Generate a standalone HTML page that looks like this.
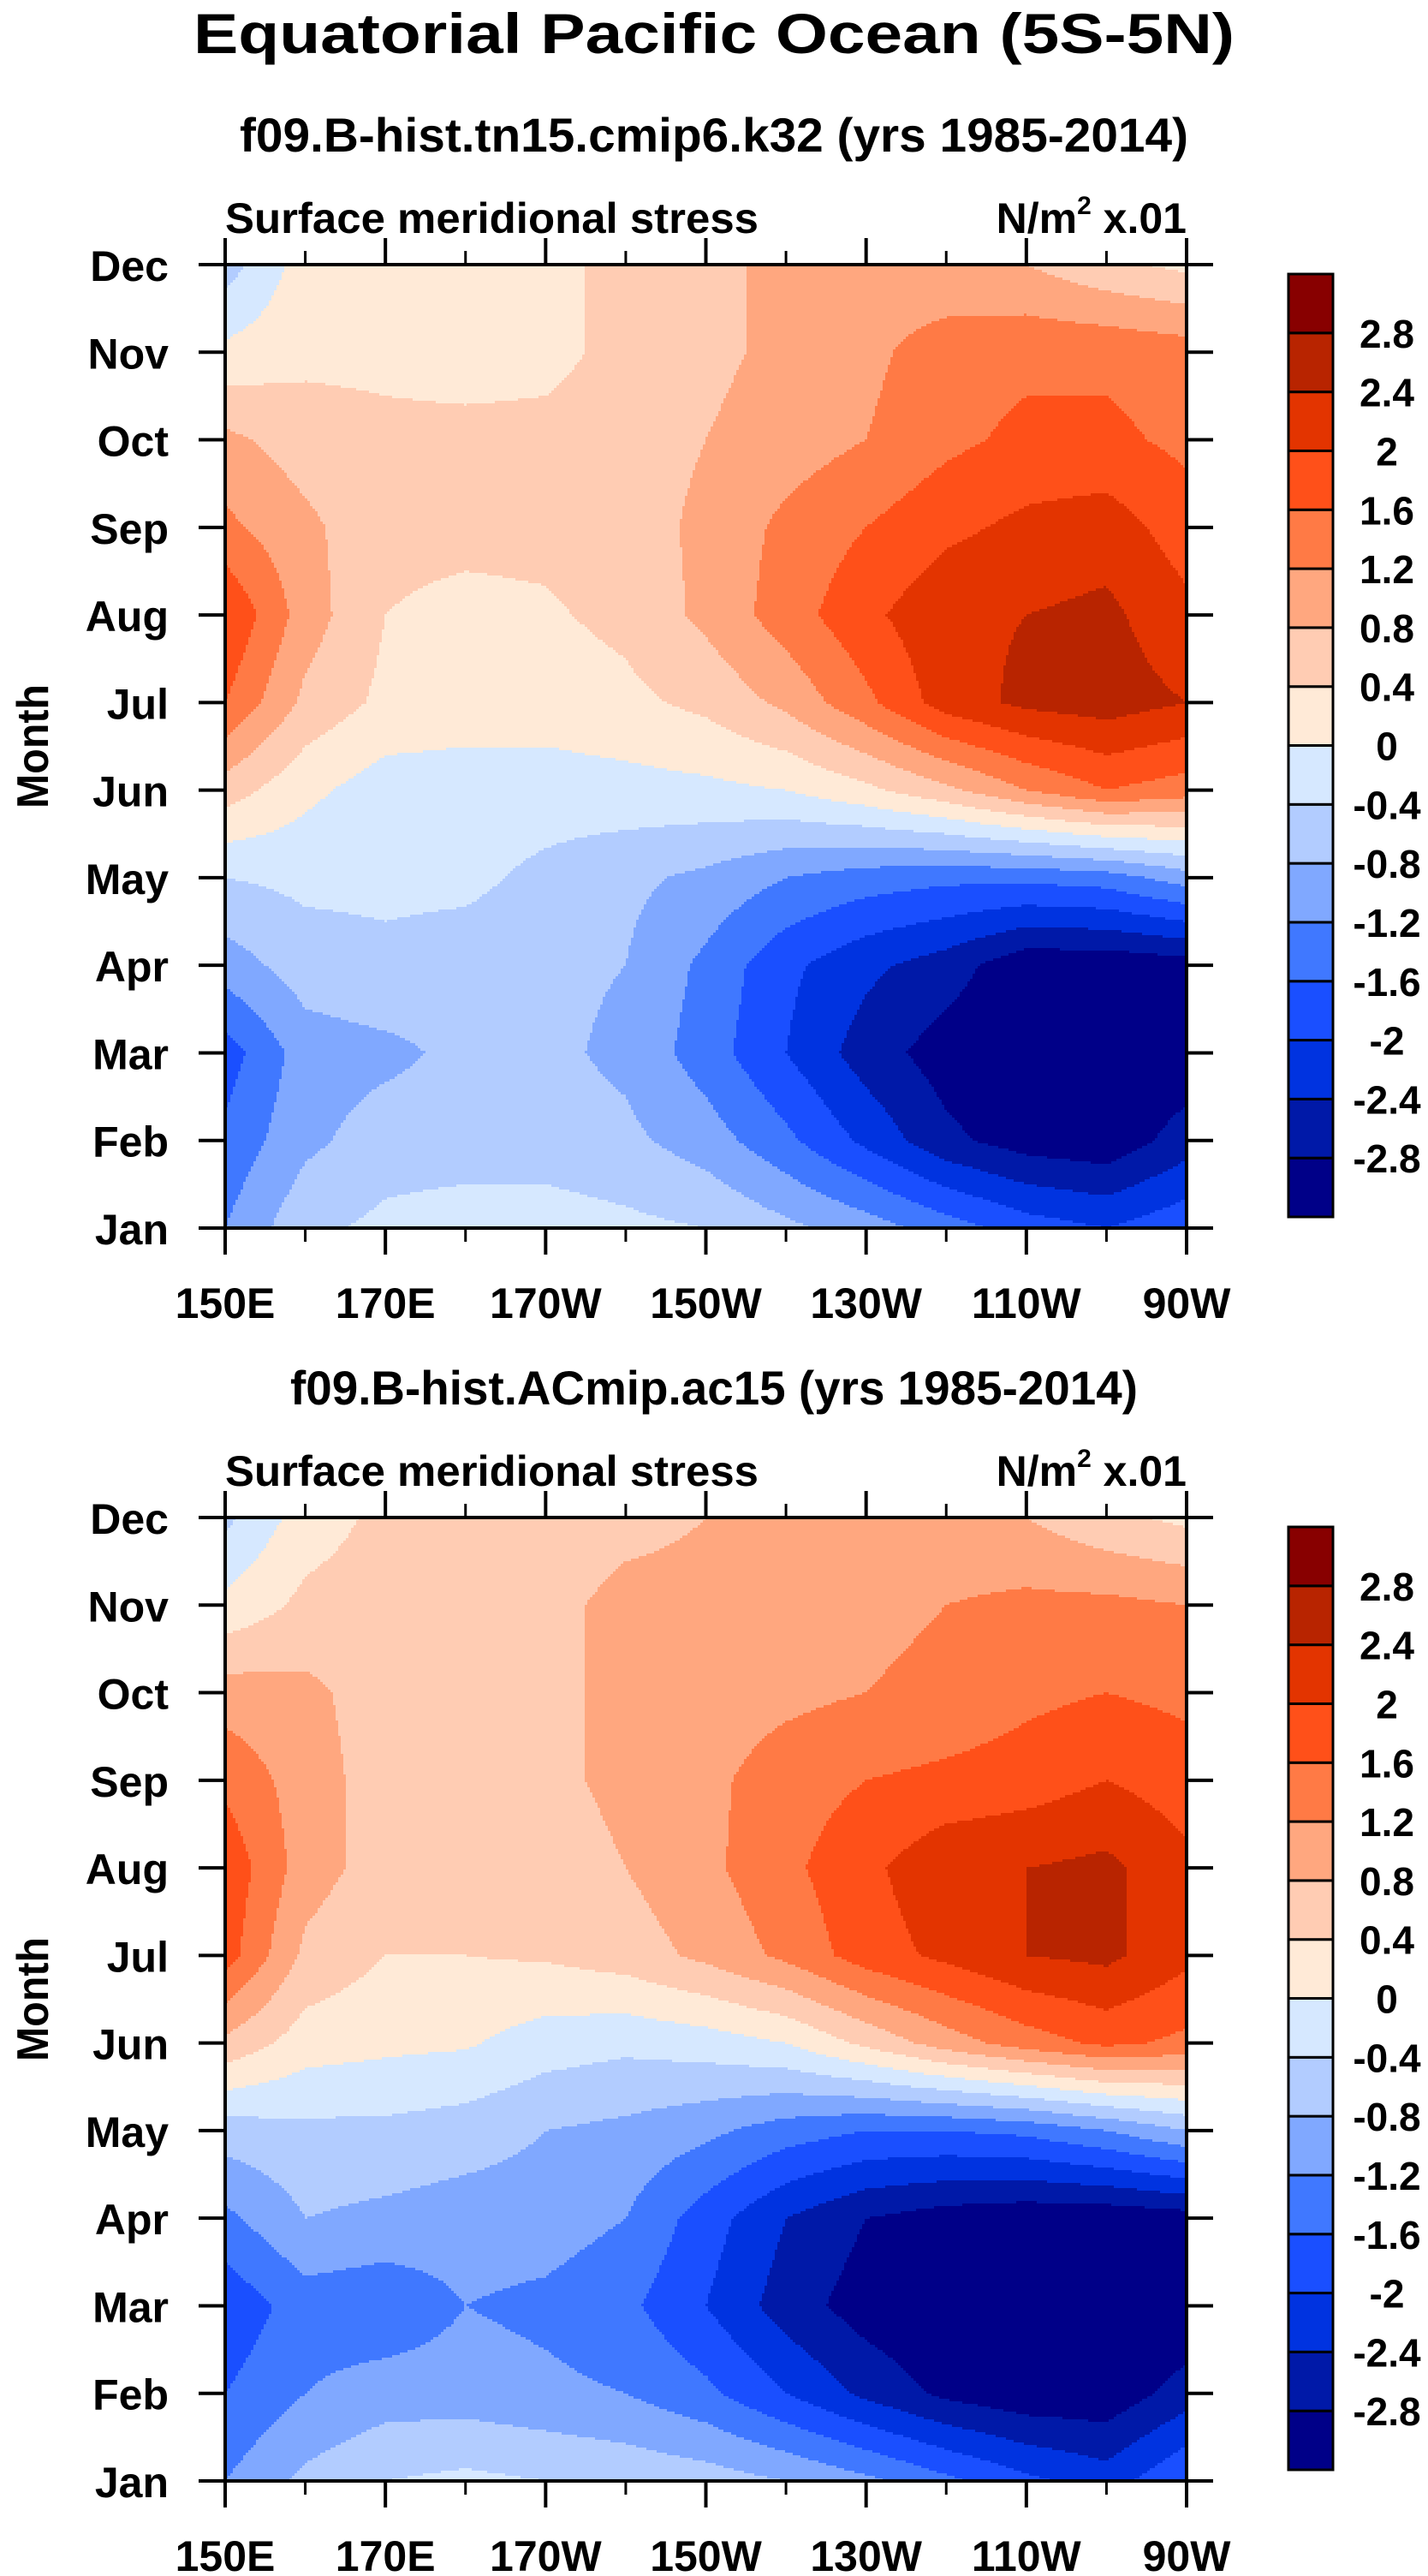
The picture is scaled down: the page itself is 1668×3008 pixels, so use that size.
<!DOCTYPE html>
<html><head><meta charset="utf-8"><style>
html,body{margin:0;padding:0;background:#fff}
svg{display:block}
text{font-family:"Liberation Sans",sans-serif;font-weight:bold;fill:#000}
</style></head><body>
<svg id="root" width="1668" height="3008" viewBox="0 0 1668 3008" xmlns="http://www.w3.org/2000/svg">
<text x="834" y="62" font-size="66" text-anchor="middle" textLength="1216" lengthAdjust="spacingAndGlyphs">Equatorial Pacific Ocean (5S-5N)</text>
<g id="panels"></g>
</svg>
<script>
// ---- data ----
const lons = [150,160,170,180,190,200,210,220,230,240,250,260,270];
const months = ["Jan","Feb","Mar","Apr","May","Jun","Jul","Aug","Sep","Oct","Nov","Dec"];
const xTickLons = [150,170,190,210,230,250,270];
const xTickLabels = ["150E","170E","170W","150W","130W","110W","90W"];
const levels = [-2.8,-2.4,-2,-1.6,-1.2,-0.8,-0.4,0,0.4,0.8,1.2,1.6,2,2.4,2.8];
const levelLabels = ["-2.8","-2.4","-2","-1.6","-1.2","-0.8","-0.4","0","0.4","0.8","1.2","1.6","2","2.4","2.8"];
const colors = ["#000088","#0019A8","#0033E0","#1A4FFF","#4078FF","#80A8FF","#B2CCFF","#D6E8FF","#FFEAD7","#FFCCB3","#FFA77F","#FF7A45","#FF5019","#E33400","#B82400","#880000"];
const titles = ["f09.B-hist.tn15.cmip6.k32 (yrs 1985-2014)","f09.B-hist.ACmip.ac15 (yrs 1985-2014)"];
// rows: Jan..Dec, columns: lons
const values1 = [
[-1.2,-0.5,-0.3,-0.2,-0.2,-0.3,-0.4,-0.7,-1.0,-1.4,-1.8,-2.0,-1.7],
[-1.5,-0.9,-0.6,-0.6,-0.6,-0.7,-1.0,-1.5,-2.1,-2.7,-3.0,-3.1,-2.6],
[-1.8,-1.0,-0.9,-0.7,-0.7,-0.9,-1.4,-2.0,-2.6,-3.0,-3.2,-3.2,-3.1],
[-1.0,-0.6,-0.5,-0.6,-0.7,-0.8,-1.3,-1.9,-2.3,-2.6,-3.1,-3.1,-3.0],
[-0.4,-0.3,-0.3,-0.3,-0.5,-0.7,-0.9,-1.2,-1.4,-1.5,-1.5,-1.4,-1.0],
[0.6,0.1,-0.2,-0.2,-0.2,-0.15,-0.1,0.0,0.3,0.7,1.2,1.6,1.4],
[1.6,0.7,0.3,0.2,0.2,0.3,0.5,0.9,1.5,2.2,2.5,2.6,2.4],
[2.0,1.0,0.4,0.3,0.35,0.5,0.9,1.4,1.9,2.3,2.4,2.5,2.1],
[1.3,0.9,0.5,0.5,0.5,0.6,0.9,1.3,1.6,1.9,2.1,2.2,1.8],
[0.9,0.6,0.5,0.5,0.5,0.6,0.8,1.0,1.2,1.5,1.7,1.7,1.5],
[0.1,0.3,0.3,0.25,0.3,0.5,0.7,0.9,1.1,1.4,1.5,1.5,1.4],
[-0.6,0.2,0.2,0.2,0.3,0.5,0.7,0.9,1.0,0.9,0.8,0.5,0.3]
];
const values2 = [
[-1.2,-0.7,-0.4,-0.3,-0.4,-0.5,-0.6,-0.8,-1.1,-1.5,-1.9,-2.2,-1.6],
[-1.6,-1.2,-1.0,-1.0,-1.1,-1.2,-1.5,-2.0,-2.5,-2.9,-3.1,-3.1,-2.6],
[-1.9,-1.4,-1.5,-1.2,-1.3,-1.5,-2.0,-2.6,-3.0,-3.2,-3.3,-3.3,-3.2],
[-1.3,-0.8,-0.9,-1.0,-1.0,-1.2,-1.8,-2.4,-2.8,-3.0,-3.1,-3.1,-3.0],
[-0.6,-0.5,-0.5,-0.6,-0.8,-0.9,-1.1,-1.4,-1.6,-1.6,-1.5,-1.2,-0.8],
[0.7,0.2,0.1,0.05,-0.2,-0.3,-0.2,0.0,0.5,1.0,1.4,1.7,1.5],
[1.8,0.7,0.4,0.4,0.45,0.6,0.9,1.3,1.8,2.1,2.4,2.5,2.1],
[1.9,1.0,0.6,0.6,0.6,0.8,1.1,1.5,1.9,2.3,2.4,2.5,2.1],
[1.5,1.0,0.6,0.6,0.7,0.9,1.1,1.4,1.6,1.7,1.8,2.0,1.8],
[1.0,0.9,0.6,0.6,0.7,0.9,1.0,1.1,1.2,1.3,1.5,1.6,1.5],
[0.1,0.5,0.6,0.6,0.7,0.9,0.9,1.0,1.1,1.2,1.3,1.3,1.2],
[-0.5,0.2,0.5,0.6,0.6,0.7,0.8,0.9,1.0,0.9,0.8,0.5,0.3]
];
const datasets = [values1, values2];

const NS = "http://www.w3.org/2000/svg";
const L = 263, R = 1386, W = R - L;
const panelTops = [309, 1772];
const H = 1125;
function mk(tag, attrs, parent){const e=document.createElementNS(NS,tag);for(const k in attrs)e.setAttribute(k,attrs[k]);parent.appendChild(e);return e;}
function colorIndex(v){let i=0;while(i<levels.length&&v>=levels[i])i++;return i;}

const panels = document.getElementById('panels');
datasets.forEach((vals, p) => {
  const top = panelTops[p], bot = top + H;
  const xs = lon => L + (lon - lons[0]) / (lons[lons.length-1] - lons[0]) * W;
  const ys = m => bot - m / (months.length - 1) * H;
  const g = mk('g', {}, panels);
  
  
  const t = mk('text', {x:834, y:top-132, 'font-size':56, 'text-anchor':'middle', textLength: p===0?1108:990, lengthAdjust:'spacingAndGlyphs'}, g);
  t.textContent = titles[p];
  
  
  const s1 = mk('text', {x:L, y:top-37, 'font-size':50, textLength:623, lengthAdjust:'spacingAndGlyphs'}, g);
  s1.textContent = 'Surface meridional stress';
  
  
  const s2 = mk('text', {x:R, y:top-37, 'font-size':50, 'text-anchor':'end'}, g);
  s2.innerHTML = 'N/m<tspan font-size="30" dy="-22">2</tspan><tspan dy="22"> x.01</tspan>';
  
  
  // contour field
  const field = mk('g', {'shape-rendering':'crispEdges'}, g);
  
  
  const step = 3, xstep = 3;
  const nLon = lons.length, nM = months.length;
  for (let py = top; py < bot; py += step) {
    const yc = py + step/2;
    let mf = (bot - yc) / H * (nM - 1);
    mf = Math.max(0, Math.min(nM - 1 - 1e-9, mf));
    const m0 = Math.floor(mf), fm = mf - m0;
    let runStart = L, runCi = -1;
    let px = L;
    while (true) {
      const done = px >= R;
      let ci = -1;
      if (!done) {
        let lf = (px + xstep/2 - L) / W * (nLon - 1);
        lf = Math.max(0, Math.min(nLon - 1 - 1e-9, lf));
        const l0 = Math.floor(lf), fl = lf - l0;
        const v = (vals[m0][l0]*(1-fl) + vals[m0][l0+1]*fl)*(1-fm) + (vals[m0+1][l0]*(1-fl) + vals[m0+1][l0+1]*fl)*fm;
        ci = colorIndex(v);
      }
      if (ci !== runCi || done) {
        if (runCi >= 0) {
          const r = mk('rect', {x:runStart, y:py, width:Math.min(px,R)-runStart, height:Math.min(step, bot-py), fill:colors[runCi]}, field);
          
          
        }
        runStart = px; runCi = ci;
      }
      if (done) break;
      px += xstep;
    }
  }
  // frame
  const fr = mk('rect', {x:L, y:top, width:W, height:H, fill:'none', stroke:'#000', 'stroke-width':4}, g);
  
  
  // y ticks & labels
  months.forEach((mn, i) => {
    const y = ys(i);
    mk('line', {x1:L-31, x2:L, y1:y, y2:y, stroke:'#000', 'stroke-width':4}, g);
    mk('line', {x1:R, x2:R+31, y1:y, y2:y, stroke:'#000', 'stroke-width':4}, g);
    const tl = mk('text', {x:197, y:y+19, 'font-size':50, 'text-anchor':'end'}, g);
    tl.textContent = mn;
    
    
  });
  // x ticks
  lons.forEach((ln) => {
    const x = xs(ln);
    const major = xTickLons.indexOf(ln) >= 0;
    const len = major ? 31 : 16;
    mk('line', {x1:x, x2:x, y1:top-len, y2:top, stroke:'#000', 'stroke-width':major?4:3}, g);
    mk('line', {x1:x, x2:x, y1:bot, y2:bot+len, stroke:'#000', 'stroke-width':major?4:3}, g);
  });
  xTickLons.forEach((ln, i) => {
    const tl = mk('text', {x:xs(ln), y:bot+105, 'font-size':50, 'text-anchor':'middle'}, g);
    tl.textContent = xTickLabels[i];
    
    
  });
  const yt = mk('text', {x:0, y:0, 'font-size':52, 'text-anchor':'middle', textLength:145, lengthAdjust:'spacingAndGlyphs', transform:'translate(56,'+(top+H/2)+') rotate(-90)'}, g);
  yt.textContent = 'Month';
  
  
  // colorbar
  const cb = mk('g', {}, g);
  
  
  const cbTop = top + 11, bh = 1101 / colors.length;
  colors.forEach((c, i) => {
    const y = cbTop + (colors.length - 1 - i) * bh;
    const b = mk('rect', {x:1505, y:y, width:52, height:bh, fill:c, stroke:'#000', 'stroke-width':3}, cb);
    
    
  });
  levelLabels.forEach((lb, i) => {
    const y = cbTop + (colors.length - 1 - i) * bh;
    const tl = mk('text', {x:1620, y:y+17, 'font-size':46, 'text-anchor':'middle'}, cb);
    tl.textContent = lb;
    
    
  });
});
</script>
</body></html>
